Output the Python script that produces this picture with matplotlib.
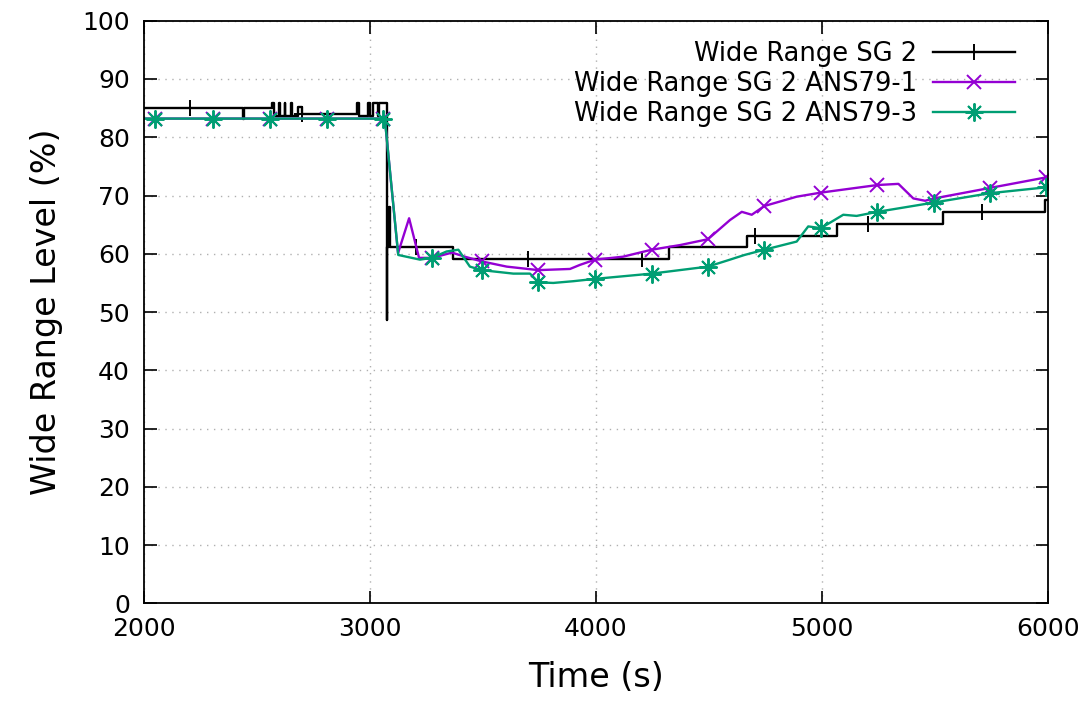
import numpy as np
import matplotlib
matplotlib.use('Agg')
import matplotlib.pyplot as plt

# Wide Range SG 2 (stepped signal)
sg2_t = [2000, 2204, 2439, 2444, 2565, 2575, 2597, 2601, 2622, 2626, 2650,
         2655, 2680, 2699, 2941, 2950, 2993, 3000, 3015, 3037, 3040, 3074,
         3077, 3083, 3088, 3204, 3367, 3699, 4202, 4323, 4667, 4704, 5065,
         5204, 5535, 5707, 5987, 6000]
sg2_v = [85.0, 85.0, 83.2, 85.0, 85.9, 83.6, 85.9, 83.6, 85.9, 83.6, 85.9,
         83.6, 85.2, 84.0, 85.9, 83.6, 85.9, 83.6, 85.9, 83.6, 85.9, 48.7,
         61.1, 68.0, 61.1, 61.1, 59.1, 59.1, 59.1, 61.2, 63.1, 63.1, 65.1,
         65.1, 67.1, 67.1, 69.2, 69.2]
sg2_marks = [2204, 2699, 3204, 3699, 4202, 4704, 5204, 5707]

# ANS79-1
ans1_t = [2000, 2049, 2307, 2558, 2808, 3059, 3066, 3124, 3173, 3217, 3273,
          3363, 3420, 3494, 3605, 3745, 3885, 3929, 3996, 4119, 4246, 4372,
          4495, 4593, 4645, 4689, 4745, 4888, 4995, 5245, 5338, 5404, 5456,
          5496, 5743, 5990]
ans1_v = [83.2, 83.2, 83.2, 83.2, 83.2, 83.2, 83.0, 60.1, 66.1, 59.3, 59.3,
          60.2, 59.5, 58.7, 57.8, 57.2, 57.4, 58.1, 59.0, 59.5, 60.7, 61.5,
          62.5, 65.8, 67.2, 66.7, 68.2, 69.8, 70.5, 71.8, 72.0, 69.5, 69.1,
          69.5, 71.3, 73.1]

# ANS79-3
ans3_t = [2000, 2049, 2307, 2558, 2808, 3059, 3066, 3125, 3221, 3273, 3339,
          3391, 3442, 3494, 3634, 3708, 3745, 3811, 3900, 3996, 4246, 4495,
          4593, 4657, 4745, 4888, 4939, 4995, 5094, 5153, 5245, 5496, 5743,
          5990]
ans3_v = [83.2, 83.2, 83.2, 83.2, 83.2, 83.2, 83.0, 59.8, 59.0, 59.3, 60.4,
          60.7, 57.8, 57.2, 56.6, 56.6, 55.1, 55.0, 55.3, 55.7, 56.6, 57.8,
          59.0, 59.8, 60.7, 62.1, 64.7, 64.4, 66.7, 66.5, 67.2, 68.8, 70.4,
          71.4]

# point symbols are drawn every ~250 s on both ANS79 curves
ans_marks = [2049, 2307, 2558, 2808, 3059, 3273, 3494, 3745, 3996, 4246,
             4495, 4745, 4995, 5245, 5496, 5743, 5990]

labels = ["Wide Range SG 2", "Wide Range SG 2 ANS79-1", "Wide Range SG 2 ANS79-3"]


def mark_idx(t, marks):
  return [i for i, x in enumerate(t) if x in marks]


plt.rcParams['font.family'] = ['DejaVu Sans']

fig = plt.figure(figsize=(10.9, 7.13), dpi=100)
ax = fig.add_axes([0.1321, 0.1536, 0.8294, 0.8174])

ax.plot(sg2_t, sg2_v, color='black', lw=1.7, drawstyle='steps-post',
        marker='+', ms=12, mew=1.4, markevery=mark_idx(sg2_t, sg2_marks),
        label=labels[0])
ax.plot(ans1_t, ans1_v, color='#9400d3', lw=1.7, marker='x', ms=10, mew=1.4,
        markevery=mark_idx(ans1_t, ans_marks), label=labels[1])
ax.plot(ans3_t, ans3_v, color='#009e73', lw=1.7, marker=(8, 2, 0), ms=13,
        mew=1.4, markevery=mark_idx(ans3_t, ans_marks), label=labels[2])

ax.set_xlim(2000, 6000)
ax.set_ylim(0, 100)
ax.set_xticks(np.arange(2000, 6001, 1000))
ax.set_yticks(np.arange(0, 101, 10))
ax.grid(True, color='#b0b0b0', linestyle=(0, (1, 4)), lw=1.0)
ax.tick_params(direction='in', length=9, width=1.2, top=True, right=True,
               labelsize=18, pad=10)
for s in ax.spines.values():
  s.set_linewidth(1.3)

ax.set_xlabel("Time (s)", fontsize=24, labelpad=14)
ax.set_ylabel("Wide Range Level (%)", fontsize=24, labelpad=14)

leg = ax.legend(loc='upper right', frameon=False, markerfirst=False,
                fontsize=18.5, handlelength=3.2, handletextpad=0.6,
                labelspacing=0.15, borderaxespad=0.4,
                bbox_to_anchor=(0.986, 1.0))

plt.savefig('out.png', dpi=100)
